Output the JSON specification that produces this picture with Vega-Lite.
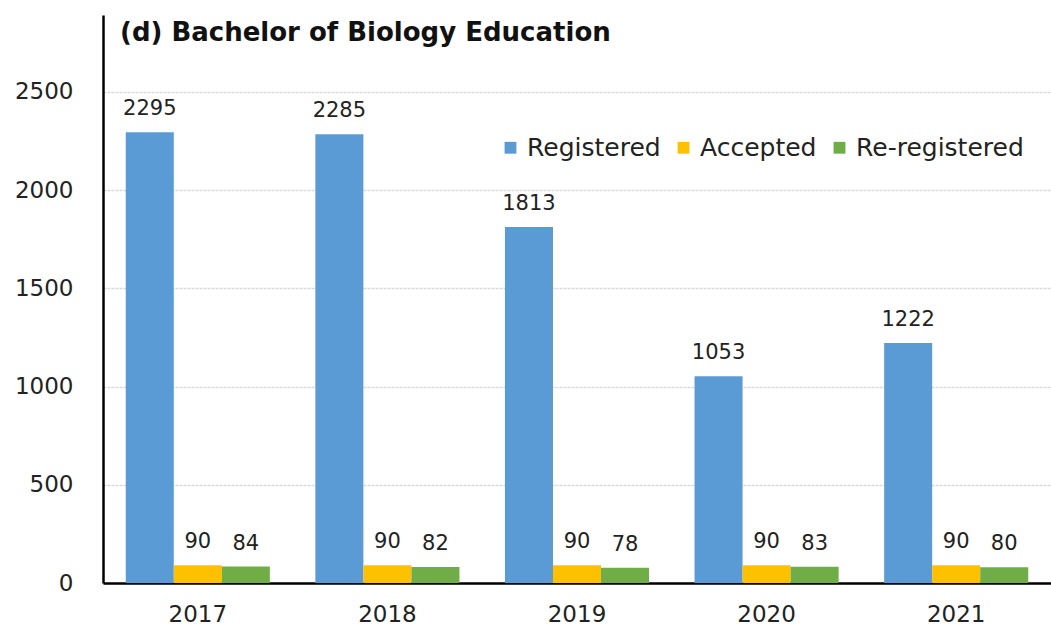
{
  "$schema": "https://vega.github.io/schema/vega-lite/v6.json",
  "autosize": {"type": "none"},
  "width": 948,
  "height": 568,
  "padding": {"left": 103, "top": 15, "right": 0, "bottom": 51},
  "background": "white",
  "config": {"view": {"stroke": null}, "font": "DejaVu Sans"},
  "title": {"text": "(d) Bachelor of Biology Education", "anchor": "start", "frame": "group", "orient": "top", "offset": -57, "dx": 17, "fontSize": 26, "fontWeight": "bold", "font": "DejaVu Sans", "color": "#111", "baseline": "bottom"},
  "data": {"values": [
    {"year": "2017", "series": "Registered", "value": 2295},
    {"year": "2017", "series": "Accepted", "value": 90},
    {"year": "2017", "series": "Re-registered", "value": 84},
    {"year": "2018", "series": "Registered", "value": 2285},
    {"year": "2018", "series": "Accepted", "value": 90},
    {"year": "2018", "series": "Re-registered", "value": 82},
    {"year": "2019", "series": "Registered", "value": 1813},
    {"year": "2019", "series": "Accepted", "value": 90},
    {"year": "2019", "series": "Re-registered", "value": 78},
    {"year": "2020", "series": "Registered", "value": 1053},
    {"year": "2020", "series": "Accepted", "value": 90},
    {"year": "2020", "series": "Re-registered", "value": 83},
    {"year": "2021", "series": "Registered", "value": 1222},
    {"year": "2021", "series": "Accepted", "value": 90},
    {"year": "2021", "series": "Re-registered", "value": 80}
  ]},
  "encoding": {
    "x": {"field": "year", "type": "nominal", "title": null,
      "scale": {"paddingInner": 0.24, "paddingOuter": 0.12},
      "axis": {"labelAngle": 0, "labelFontSize": 23, "labelFont": "DejaVu Sans", "labelColor": "#222", "labelPadding": 20, "ticks": false, "domainColor": "#000", "domainWidth": 2.5, "grid": false}},
    "xOffset": {"field": "series", "type": "nominal", "sort": ["Registered", "Accepted", "Re-registered"], "scale": {"paddingInner": 0, "paddingOuter": 0}},
    "y": {"field": "value", "type": "quantitative", "title": null,
      "scale": {"domain": [0, 2892], "nice": false, "zero": true},
      "axis": {"values": [0, 500, 1000, 1500, 2000, 2500], "format": "d", "labelFontSize": 23, "labelFont": "DejaVu Sans", "labelColor": "#222", "labelPadding": 30, "ticks": false, "domainColor": "#000", "domainWidth": 2.5, "gridColor": "#d9d9d9", "gridWidth": 1.5, "gridDash": [3, 1]}}
  },
  "layer": [
    {"mark": {"type": "bar"},
     "encoding": {
       "color": {"field": "series", "type": "nominal", "sort": ["Registered", "Accepted", "Re-registered"],
         "scale": {"domain": ["Registered", "Accepted", "Re-registered"], "range": ["#5B9BD5", "#FFC000", "#70AD47"]},
         "legend": {"title": null, "orient": "none", "legendX": 395, "legendY": 120, "direction": "horizontal", "symbolType": "square", "symbolSize": 140, "symbolStrokeWidth": 0, "labelFont": "DejaVu Sans", "labelFontSize": 25, "labelColor": "#222", "labelLimit": 300, "columnPadding": 10, "labelOffset": 4}}
     }},
    {"mark": {"type": "text", "fontSize": 21, "font": "DejaVu Sans", "color": "#222", "baseline": "bottom", "dy": -13},
     "encoding": {"text": {"field": "value", "type": "quantitative"}}}
  ]
}
